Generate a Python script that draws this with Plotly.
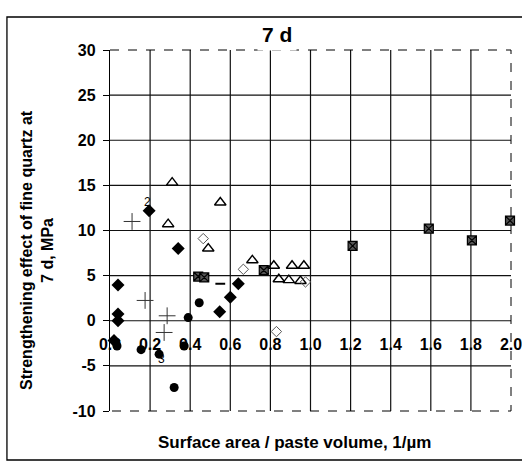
import plotly.graph_objects as go

# ---- data ----
X_TICKS = [0.0, 0.2, 0.4, 0.6, 0.8, 1.0, 1.2, 1.4, 1.6, 1.8, 2.0]
Y_TICKS = [-10, -5, 0, 5, 10, 15, 20, 25, 30]

diamond_x = [0.04, 0.04, 0.04, 0.02, 0.195, 0.34, 0.547, 0.60, 0.64]
diamond_y = [3.95, 0.75, 0.0, -2.2, 12.2, 8.0, 1.0, 2.6, 4.1]

circle_x = [0.035, 0.155, 0.245, 0.32, 0.37, 0.39, 0.445]
circle_y = [-2.8, -3.2, -3.7, -7.4, -2.8, 0.35, 2.0]

plus_x = [0.11, 0.175, 0.27, 0.285]
plus_y = [11.0, 2.25, -1.3, 0.55]

dash_x = [0.55]
dash_y = [4.1]

tri_x = [0.31, 0.55, 0.29, 0.49, 0.71, 0.817, 0.908, 0.967, 0.842, 0.892, 0.95]
tri_y = [15.3, 13.1, 10.7, 8.0, 6.7, 6.1, 6.1, 6.1, 4.6, 4.5, 4.4]

odiam_x = [0.465, 0.665, 0.975, 0.83]
odiam_y = [9.1, 5.7, 4.3, -1.2]

sq_x = [0.44, 0.47, 0.767, 1.21, 1.59, 1.805, 1.995]
sq_y = [4.9, 4.8, 5.6, 8.3, 10.2, 8.9, 11.1]

labels_text = ["2", "3"]
labels_x = [0.185, 0.255]
labels_y = [13.2, -4.2]

FONT = "Liberation Sans, Arial, sans-serif"

fig = go.Figure()
fig.add_trace(go.Scatter(x=sq_x, y=sq_y, mode="markers",
                         marker=dict(symbol="square-x", size=9, color="#555",
                                     line=dict(color="black", width=1.2))))
fig.add_trace(go.Scatter(x=tri_x, y=tri_y, mode="markers",
                         marker=dict(symbol="triangle-up-open", size=10, color="black",
                                     line=dict(color="black", width=1.4))))
fig.add_trace(go.Scatter(x=odiam_x, y=odiam_y, mode="markers",
                         marker=dict(symbol="diamond-open", size=8, color="#555",
                                     line=dict(color="#555", width=1))))
fig.add_trace(go.Scatter(x=plus_x, y=plus_y, mode="markers",
                         marker=dict(symbol="cross-thin-open", size=12, color="#333",
                                     line=dict(color="#333", width=1))))
fig.add_trace(go.Scatter(x=dash_x, y=dash_y, mode="markers",
                         marker=dict(symbol="line-ew-open", size=7, color="black",
                                     line=dict(color="black", width=2))))
fig.add_trace(go.Scatter(x=diamond_x, y=diamond_y, mode="markers",
                         marker=dict(symbol="diamond", size=10, color="black")))
fig.add_trace(go.Scatter(x=circle_x, y=circle_y, mode="markers",
                         marker=dict(symbol="circle", size=9, color="black")))
fig.update_traces(cliponaxis=False, showlegend=False)

for t, x, y in zip(labels_text, labels_x, labels_y):
    fig.add_annotation(x=x, y=y, text=t, showarrow=False,
                       font=dict(family=FONT, size=12, color="black"))

shapes = []
for v in X_TICKS[1:-1]:
    shapes.append(dict(type="line", xref="x", yref="paper", x0=v, x1=v, y0=0, y1=1,
                       line=dict(color="#111", width=1.2), layer="below"))
for v in Y_TICKS[1:-1]:
    shapes.append(dict(type="line", xref="paper", yref="y", x0=0, x1=1, y0=v, y1=v,
                       line=dict(color="#111", width=1.2), layer="below"))
# dashed plot-area border (top, right, bottom)
shapes.append(dict(type="path", xref="paper", yref="paper",
                   path="M 0 1 L 1 1 L 1 0 L 0 0",
                   line=dict(color="black", width=1, dash="dash")))
# outer chart frame (left, top, bottom; right side runs off the page)
shapes.append(dict(type="path", xref="paper", yref="paper",
                   path="M 1.3 1.0914 L -0.257 1.0914 L -0.257 -0.1357 L 1.3 -0.1357",
                   line=dict(color="black", width=1.3)))

y_range = [Y_TICKS[0], Y_TICKS[-1]]
fig.update_layout(
    width=522, height=463,
    margin=dict(l=110, r=11, t=50, b=52),
    paper_bgcolor="white", plot_bgcolor="white",
    font=dict(family=FONT, color="black"),
    shapes=shapes,
    xaxis=dict(range=[X_TICKS[0], X_TICKS[-1]], tickvals=X_TICKS,
               ticktext=[f"{v:.1f}" for v in X_TICKS],
               showgrid=False, zeroline=False, showline=False, ticks="",
               anchor="free", automargin=False,
               position=(0 - y_range[0]) / (y_range[1] - y_range[0]),
               ticklabelstandoff=12, ticklabeloverflow="allow",
               tickfont=dict(family=FONT, size=16, color="black", weight="bold")),
    yaxis=dict(range=y_range, tickvals=Y_TICKS, ticktext=[str(v) for v in Y_TICKS],
               showgrid=False, zeroline=False, showline=True, linecolor="black",
               linewidth=1.3, ticks="outside", ticklen=6, tickcolor="black",
               ticklabelstandoff=4, automargin=False,
               tickfont=dict(family=FONT, size=16, color="black", weight="bold")),
)

fig.add_annotation(text="<b>7 d</b>", xref="paper", yref="paper", x=0.4165, y=1.0416,
                   xanchor="center", yanchor="middle",
                   showarrow=False, bgcolor="white", borderpad=4,
                   font=dict(family=FONT, size=21, color="black"))
fig.add_annotation(text="<b>Strengthening effect of fine quartz at<br>7 d, MPa</b>",
                   xref="paper", yref="paper", x=-0.182, y=0.446, textangle=-90,
                   xanchor="center", yanchor="middle",
                   showarrow=False, font=dict(family=FONT, size=16, color="black"))
fig.add_annotation(text="<b>Surface area / paste volume, 1/µm</b>",
                   xref="paper", yref="paper", x=0.459, y=-0.0859,
                   xanchor="center", yanchor="middle",
                   showarrow=False, font=dict(family=FONT, size=17, color="black"))

fig.write_html("out.html")
